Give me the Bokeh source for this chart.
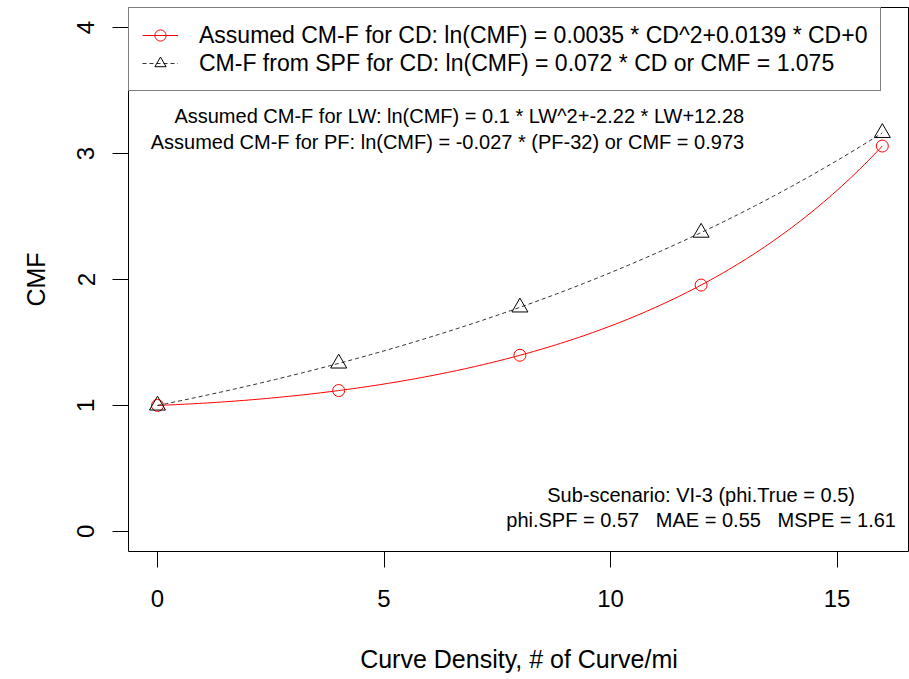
import numpy as np
from bokeh.plotting import figure
from bokeh.models import Range1d, Legend, LegendItem, Label, FixedTicker
from bokeh.embed import file_html
from bokeh.resources import INLINE

# Curve density values where markers are drawn
cd_points = [0, 4, 8, 12, 16]

# Assumed CM-F for CD: ln(CMF) = a2 * CD^2 + a1 * CD + a0
assumed_a2 = 0.0035
assumed_a1 = 0.0139
assumed_a0 = 0.0
# CM-F from SPF for CD: ln(CMF) = b1 * CD
spf_b1 = 0.072

x_ticks = [0, 5, 10, 15]
y_ticks = [0, 1, 2, 3, 4]

legend_labels = [
    "Assumed CM-F for CD: ln(CMF) = 0.0035 * CD^2+0.0139 * CD+0",
    "CM-F from SPF for CD: ln(CMF) = 0.072 * CD or CMF = 1.075",
]
note_lw = "Assumed CM-F for LW: ln(CMF) = 0.1 * LW^2+-2.22 * LW+12.28"
note_pf = "Assumed CM-F for PF: ln(CMF) = -0.027 * (PF-32) or CMF = 0.973"
note_sub = "Sub-scenario: VI-3 (phi.True = 0.5)"
note_err = "phi.SPF = 0.57\u00a0\u00a0\u00a0MAE = 0.55\u00a0\u00a0\u00a0MSPE = 1.61"

FONT = "Liberation Sans"


def assumed_cmf(cd):
    cd = np.asarray(cd, dtype=float)
    return np.exp(assumed_a2 * cd ** 2 + assumed_a1 * cd + assumed_a0)


def spf_cmf(cd):
    cd = np.asarray(cd, dtype=float)
    return np.exp(spf_b1 * cd)


cd_fine = np.linspace(0, 16, 161)

p = figure(
    width=909, height=679,
    x_range=Range1d(-0.64, 16.6), y_range=Range1d(-0.16, 4.16),
    output_backend="svg", toolbar_location=None,
    min_border_left=128, min_border_right=0,
    min_border_top=7, min_border_bottom=128,
)
p.background_fill_color = "white"
p.border_fill_color = "white"
p.outline_line_color = "black"
p.outline_line_width = 1
p.grid.visible = False

# axes
p.xaxis.ticker = FixedTicker(ticks=x_ticks)
p.yaxis.ticker = FixedTicker(ticks=y_ticks)
for ax in (p.xaxis[0], p.yaxis[0]):
    ax.axis_line_color = None
    ax.major_tick_line_color = "black"
    ax.major_tick_out = 16
    ax.major_tick_in = 0
    ax.minor_tick_line_color = None
    ax.major_label_text_font = FONT
    ax.major_label_text_font_size = "24px"
    ax.major_label_text_color = "black"
    ax.axis_label_text_font = FONT
    ax.axis_label_text_font_style = "normal"
    ax.axis_label_text_color = "black"

p.xaxis.axis_label = "Curve Density, # of Curve/mi"
p.xaxis.axis_label_text_font_size = "25px"
p.xaxis.major_label_standoff = 22
p.xaxis.axis_label_standoff = 35

p.yaxis.axis_label = "CMF"
p.yaxis.axis_label_text_font_size = "25px"
p.yaxis.major_label_orientation = "parallel"
p.yaxis.major_label_standoff = 18
p.yaxis.axis_label_standoff = 25

# curves and markers
r_line = p.line(cd_fine, assumed_cmf(cd_fine), line_color="#FF0000", line_width=1)
r_pts = p.scatter(cd_points, assumed_cmf(cd_points), marker="circle", size=12,
                  fill_color=None, line_color="#FF0000", line_width=1)
k_line = p.line(cd_fine, spf_cmf(cd_fine), line_color="#333333", line_width=1,
                line_dash="4 3")
k_pts = p.scatter(cd_points, spf_cmf(cd_points), marker="triangle", size=16,
                  fill_color=None, line_color="black", line_width=1)

legend = Legend(
    items=[
        LegendItem(label=legend_labels[0], renderers=[r_line, r_pts]),
        LegendItem(label=legend_labels[1], renderers=[k_line, k_pts]),
    ],
    location="top_left", margin=0, padding=13, spacing=0,
    label_height=28, glyph_height=28, glyph_width=36, label_standoff=21,
    label_width=655,
    label_text_font=FONT, label_text_font_size="23px",
    label_text_color="black",
    border_line_color="black", border_line_width=1,
    background_fill_color="white", background_fill_alpha=1.0,
)
p.add_layout(legend)

# notes
note_style = dict(text_font=FONT, text_font_size="20px", text_color="black",
                  text_baseline="middle")
p.add_layout(Label(x=12.95, y=3.30, text=note_lw, text_align="right", **note_style))
p.add_layout(Label(x=12.95, y=3.095, text=note_pf, text_align="right", **note_style))
p.add_layout(Label(x=12.0, y=0.286, text=note_sub, text_align="center", **note_style))
p.add_layout(Label(x=12.0, y=0.087, text=note_err, text_align="center", **note_style))

open("out.html", "w").write(file_html(p, INLINE))
